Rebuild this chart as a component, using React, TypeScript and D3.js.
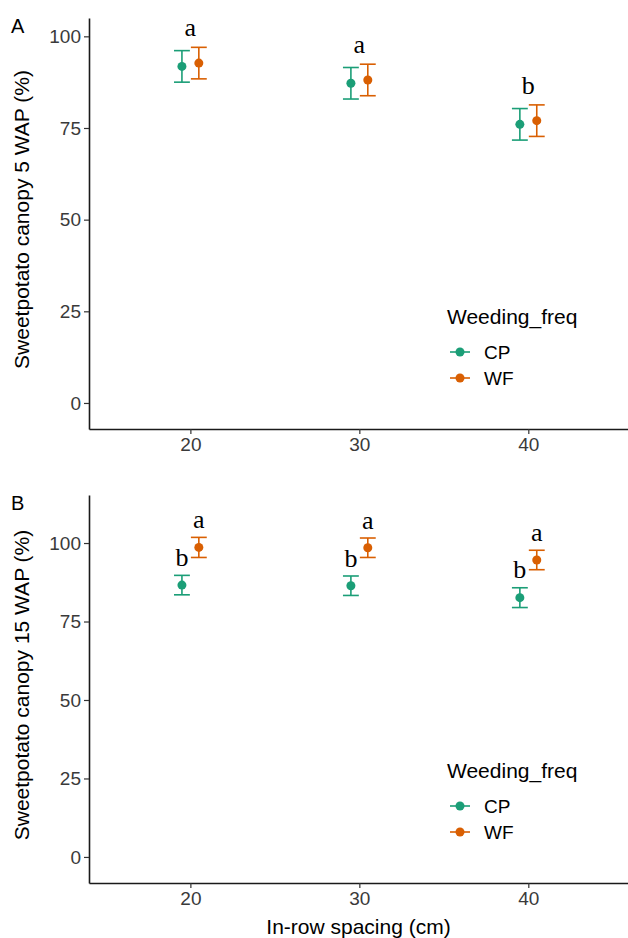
import React, { useRef, useEffect } from 'react';
import * as d3 from 'd3';

// In-row spacing (cm)
const spacing = [20, 30, 40];
const weedingFreq = ['CP', 'WF'];

// Panel A: canopy 5 WAP (%)
const canopy5CP = [91.8, 87.2, 76.0];
const canopy5WF = [92.7, 88.1, 77.0];
const canopy5CPerr = [4.3, 4.3, 4.3];
const canopy5WFerr = [4.3, 4.3, 4.3];
const canopy5Letters = ['a', 'a', 'b'];

// Panel B: canopy 15 WAP (%)
const canopy15CP = [86.6, 86.4, 82.6];
const canopy15WF = [98.6, 98.5, 94.6];
const canopy15CPerr = [3.1, 3.1, 3.15];
const canopy15WFerr = [3.2, 3.1, 3.1];
const canopy15LettersCP = ['b', 'b', 'b'];
const canopy15LettersWF = ['a', 'a', 'a'];

const yTicks = [0, 25, 50, 75, 100];

const colors: Record<string, string> = { CP: '#1B9E77', WF: '#D95F02' };
const sans = '"Liberation Sans", Arial, sans-serif';
const serif = '"Liberation Serif", "Times New Roman", serif';

export default function App() {
  const svgRef = useRef<SVGSVGElement | null>(null);

  useEffect(() => {
    const width = 628;
    const height = 938;
    const svg = d3.select(svgRef.current);
    svg.selectAll('*').remove();
    svg.attr('width', width).attr('height', height);

    const x = d3.scaleLinear().domain([14, 45.9]).range([89, 628]);
    const dodge = 0.5;
    const capHalf = 0.47;

    const drawPanel = (opts: {
      tag: string;
      top: number;
      bottom: number;
      domain: [number, number];
      title: string;
      cp: number[];
      wf: number[];
      cpErr: number[];
      wfErr: number[];
      xTitle: boolean;
    }) => {
      const y = d3.scaleLinear().domain(opts.domain).range([opts.bottom, opts.top]);
      const g = svg.append('g');

      // y axis
      const yAxis = g.append('g')
        .attr('transform', `translate(${x.range()[0]},0)`)
        .call(d3.axisLeft(y).tickValues(yTicks).tickSize(5).tickSizeOuter(0).tickPadding(3));
      yAxis.select('.domain').attr('stroke', '#1a1a1a').attr('stroke-width', 1.6);
      yAxis.selectAll('.tick line').attr('stroke', '#333').attr('stroke-width', 1.2);
      yAxis.selectAll('.tick text')
        .attr('fill', '#3a3a3a')
        .style('font-family', sans)
        .style('font-size', '19px');

      // x axis
      const xAxis = g.append('g')
        .attr('transform', `translate(0,${opts.bottom})`)
        .call(d3.axisBottom(x).tickValues(spacing).tickSize(5).tickSizeOuter(0).tickPadding(4));
      xAxis.select('.domain').attr('stroke', '#1a1a1a').attr('stroke-width', 1.6);
      xAxis.selectAll('.tick line').attr('stroke', '#333').attr('stroke-width', 1.2);
      xAxis.selectAll('.tick text')
        .attr('fill', '#3a3a3a')
        .style('font-family', sans)
        .style('font-size', '19px');

      // panel tag
      g.append('text')
        .attr('x', 11)
        .attr('y', opts.top + 15)
        .style('font-family', sans)
        .style('font-size', '20px')
        .text(opts.tag);

      // y title
      g.append('text')
        .attr('transform', `translate(29,${(opts.top + opts.bottom) / 2 - 4}) rotate(-90)`)
        .attr('text-anchor', 'middle')
        .style('font-family', sans)
        .style('font-size', '21px')
        .text(opts.title);

      // error bars + points
      const series = [
        { key: 'CP', vals: opts.cp, err: opts.cpErr, off: -dodge },
        { key: 'WF', vals: opts.wf, err: opts.wfErr, off: dodge },
      ];
      series.forEach(s => {
        spacing.forEach((sp, i) => {
          const cx = sp + s.off;
          const lo = y(s.vals[i] - s.err[i]);
          const hi = y(s.vals[i] + s.err[i]);
          const eg = g.append('g').attr('stroke', colors[s.key]).attr('stroke-width', 1.6);
          eg.append('line').attr('x1', x(cx)).attr('x2', x(cx)).attr('y1', lo).attr('y2', hi);
          eg.append('line').attr('x1', x(cx - capHalf)).attr('x2', x(cx + capHalf)).attr('y1', lo).attr('y2', lo);
          eg.append('line').attr('x1', x(cx - capHalf)).attr('x2', x(cx + capHalf)).attr('y1', hi).attr('y2', hi);
          g.append('circle')
            .attr('cx', x(cx))
            .attr('cy', y(s.vals[i]))
            .attr('r', 4.5)
            .attr('fill', colors[s.key]);
        });
      });

      // legend
      const lg = g.append('g');
      lg.append('text')
        .attr('x', 447)
        .attr('y', opts.bottom - 105)
        .style('font-family', sans)
        .style('font-size', '21px')
        .text('Weeding_freq');
      weedingFreq.forEach((k, i) => {
        const ly = opts.bottom - 77 + i * 26;
        lg.append('line')
          .attr('x1', 450).attr('x2', 470).attr('y1', ly).attr('y2', ly)
          .attr('stroke', colors[k]).attr('stroke-width', 1.6);
        lg.append('circle').attr('cx', 460).attr('cy', ly).attr('r', 4.5).attr('fill', colors[k]);
        lg.append('text')
          .attr('x', 484)
          .attr('y', ly)
          .attr('dy', '0.35em')
          .style('font-family', sans)
          .style('font-size', '19px')
          .text(k);
      });

      // x title
      if (opts.xTitle) {
        g.append('text')
          .attr('x', (x.range()[0] + x.range()[1]) / 2)
          .attr('y', 934)
          .attr('text-anchor', 'middle')
          .style('font-family', sans)
          .style('font-size', '21px')
          .text('In-row spacing (cm)');
      }
      return { g, y };
    };

    const a = drawPanel({
      tag: 'A', top: 18, bottom: 429, domain: [-7.1, 105],
      title: 'Sweetpotato canopy 5 WAP (%)',
      cp: canopy5CP, wf: canopy5WF, cpErr: canopy5CPerr, wfErr: canopy5WFerr, xTitle: false,
    });
    spacing.forEach((sp, i) => {
      const top = Math.max(canopy5CP[i] + canopy5CPerr[i], canopy5WF[i] + canopy5WFerr[i]);
      a.g.append('text')
        .attr('x', x(sp))
        .attr('y', a.y(top + 3))
        .attr('text-anchor', 'middle')
        .style('font-family', serif)
        .style('font-size', '26px')
        .text(canopy5Letters[i]);
    });

    const b = drawPanel({
      tag: 'B', top: 495, bottom: 883, domain: [-8.3, 115.3],
      title: 'Sweetpotato canopy 15 WAP (%)',
      cp: canopy15CP, wf: canopy15WF, cpErr: canopy15CPerr, wfErr: canopy15WFerr, xTitle: true,
    });
    spacing.forEach((sp, i) => {
      b.g.append('text')
        .attr('x', x(sp - dodge))
        .attr('y', b.y(canopy15CP[i] + canopy15CPerr[i] + 3))
        .attr('text-anchor', 'middle')
        .style('font-family', serif)
        .style('font-size', '26px')
        .text(canopy15LettersCP[i]);
      b.g.append('text')
        .attr('x', x(sp + dodge))
        .attr('y', b.y(canopy15WF[i] + canopy15WFerr[i] + 3))
        .attr('text-anchor', 'middle')
        .style('font-family', serif)
        .style('font-size', '26px')
        .text(canopy15LettersWF[i]);
    });
  }, []);

  return (
    <div style={{ position: 'absolute', left: 0, top: 0, background: '#fff' }}>
      <svg ref={svgRef} style={{ display: 'block' }}></svg>
    </div>
  );
}
